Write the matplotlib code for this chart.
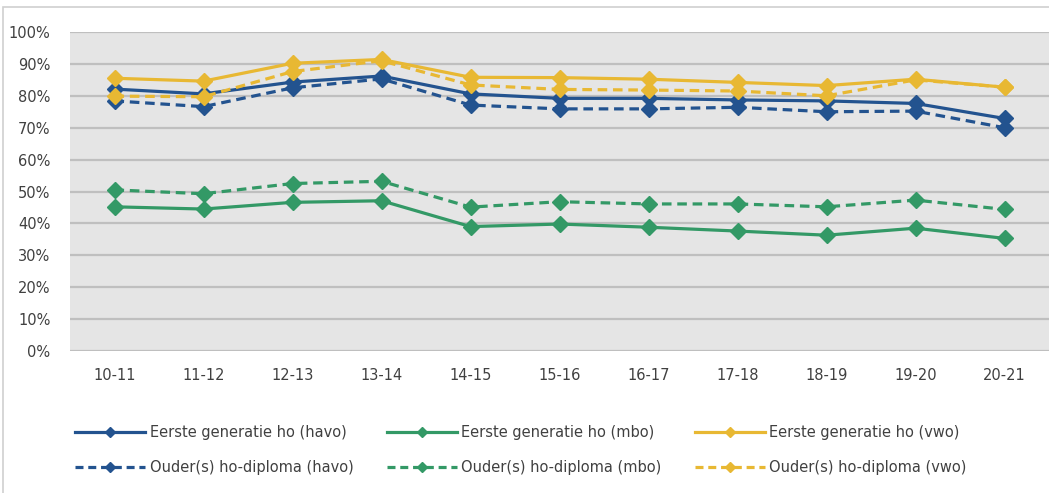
import matplotlib
matplotlib.use("Agg")
import matplotlib.pyplot as plt
from matplotlib.patches import Rectangle
from matplotlib.ticker import PercentFormatter

# school years on the x axis
years = ["10-11", "11-12", "12-13", "13-14", "14-15", "15-16",
         "16-17", "17-18", "18-19", "19-20", "20-21"]

# percentages
eerste_havo = [82.1, 80.6, 84.3, 86.2, 80.6, 79.2, 79.2, 78.7, 78.4, 77.6, 72.9]
eerste_mbo = [45.2, 44.5, 46.6, 47.1, 39.0, 39.8, 38.8, 37.6, 36.3, 38.5, 35.3]
eerste_vwo = [85.5, 84.6, 90.2, 91.4, 85.8, 85.7, 85.2, 84.2, 83.2, 85.2, 82.7]
ouder_havo = [78.4, 76.6, 82.5, 85.3, 77.1, 75.9, 75.9, 76.4, 75.0, 75.2, 70.0]
ouder_mbo = [50.5, 49.3, 52.5, 53.2, 45.1, 46.8, 46.1, 46.1, 45.2, 47.3, 44.4]
ouder_vwo = [79.9, 79.7, 87.6, 91.0, 83.4, 82.0, 81.8, 81.5, 80.0, 85.0, 82.7]

labels = ["Eerste generatie ho (havo)", "Eerste generatie ho (mbo)",
          "Eerste generatie ho (vwo)", "Ouder(s) ho-diploma (havo)",
          "Ouder(s) ho-diploma (mbo)", "Ouder(s) ho-diploma (vwo)"]

BLUE = "#23538f"
GREEN = "#339966"
YELLOW = "#e8b833"
TEXT = "#404040"

series = [
    (eerste_havo, BLUE, "-"),
    (eerste_mbo, GREEN, "-"),
    (eerste_vwo, YELLOW, "-"),
    (ouder_havo, BLUE, "--"),
    (ouder_mbo, GREEN, "--"),
    (ouder_vwo, YELLOW, "--"),
]

fig = plt.figure(figsize=(10.49, 4.93), dpi=100)
fig.patch.set_facecolor("white")

# light frame round the whole chart
fig.patches.append(Rectangle((3 / 1049, -0.01), 1.05, (493 - 7) / 493 + 0.01,
                             transform=fig.transFigure, fill=False,
                             edgecolor="#d0d0d0", linewidth=1.2))

ax = fig.add_axes([70 / 1049, (493 - 351) / 493, (1049 - 70) / 1049, (351 - 32) / 493])
ax.set_facecolor("#e5e5e5")

x = list(range(len(years)))
for values, color, ls in series:
    ax.plot(x, values, color=color, linestyle=ls, linewidth=2.3,
            marker="D", markersize=8, dashes=(3, 1.8) if ls == "--" else (None, None),
            zorder=3)

ax.set_xlim(-0.5, len(years) - 0.5)
ax.set_ylim(0, 100)
ax.set_yticks(range(0, 101, 10))
ax.yaxis.set_major_formatter(PercentFormatter(decimals=0))
ax.set_xticks(x)
ax.set_xticklabels(years)
ax.grid(axis="y", color="#bfbfbf", linewidth=1.6)
ax.set_axisbelow(True)
for side in ax.spines.values():
    side.set_visible(False)
ax.tick_params(length=0, labelsize=10.5, labelcolor=TEXT)
ax.tick_params(axis="x", pad=12)
ax.tick_params(axis="y", pad=14)

# legend: two rows of three, dashed series on the second row
leg_handles = []
for values, color, ls in series:
    h, = ax.plot([], [], color=color, linestyle=ls, linewidth=2.3, marker="D",
                 markersize=5, dashes=(2.5, 1.5) if ls == "--" else (None, None))
    leg_handles.append(h)

order = [0, 3, 1, 4, 2, 5]
fig.legend([leg_handles[i] for i in order], [labels[i] for i in order],
           loc="upper left", bbox_to_anchor=(62 / 1049, (493 - 412) / 493),
           ncol=3, frameon=False, fontsize=10.5, labelcolor=TEXT,
           handlelength=4.8, handletextpad=0.3, columnspacing=2.3,
           labelspacing=1.35)

fig.savefig("out.png", dpi=100)
